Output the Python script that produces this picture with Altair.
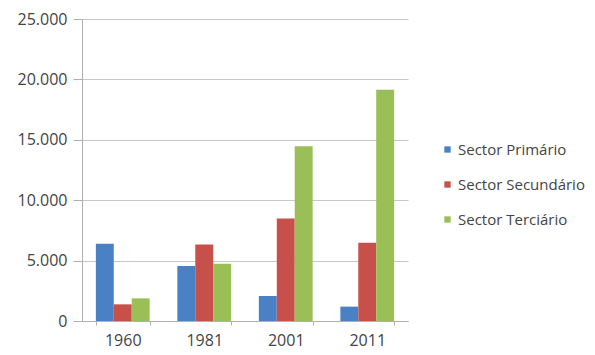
import altair as alt
import pandas as pd

years = ["1960", "1981", "2001", "2011"]
sectors = ["Sector Primário", "Sector Secundário", "Sector Terciário"]
primario = [6400, 4550, 2070, 1190]
secundario = [1380, 6340, 8490, 6480]
terciario = [1875, 4745, 14470, 19150]
colors = ["#4A80C4", "#C8504B", "#9BBF57"]

rows = []
for i, y in enumerate(years):
    for s, vals in zip(sectors, [primario, secundario, terciario]):
        rows.append({"ano": y, "sector": s, "valor": vals[i]})
df = pd.DataFrame(rows)

font = "Open Sans"
fs = 16

chart = alt.Chart(df).mark_bar().encode(
    x=alt.X("ano:N", sort=years, title=None,
            scale=alt.Scale(paddingInner=0.34, paddingOuter=0.17),
            axis=alt.Axis(labelAngle=0, labelFontSize=fs, labelColor="#444444",
                          labelFont=font, domainColor="#b0b0b0", tickColor="#b0b0b0",
                          tickBand="extent", tickSize=4, labelPadding=7, grid=False)),
    xOffset=alt.XOffset("sector:N", sort=sectors),
    y=alt.Y("valor:Q", title=None,
            scale=alt.Scale(domain=[0, 25000], nice=False),
            axis=alt.Axis(values=[0, 5000, 10000, 15000, 20000, 25000],
                          labelExpr="replace(format(datum.value, ','), ',', '.')",
                          labelFontSize=fs, labelColor="#444444", labelFont=font,
                          domainColor="#b0b0b0", tickColor="#b0b0b0", tickSize=9,
                          gridColor="#c8c8c8", labelPadding=6)),
    color=alt.Color("sector:N", sort=sectors,
                    scale=alt.Scale(domain=sectors, range=colors),
                    legend=alt.Legend(title=None, orient="none", legendX=358, legendY=123,
                                      symbolType="square", symbolSize=40, symbolStrokeWidth=0,
                                      labelFontSize=15, labelFont=font, labelColor="#444444",
                                      rowPadding=19, labelOffset=3)),
).properties(
    width=326, height=302,
    background="white",
    autosize=alt.AutoSizeParams(type="none"),
    padding={"left": 82, "top": 19, "right": 187, "bottom": 34},
).configure(
    view=alt.ViewConfig(stroke="transparent", strokeWidth=0, strokeOpacity=0),
    style={"cell": {"stroke": "transparent", "strokeWidth": 0}},
)

chart.save("out.html", embed_options={"renderer": "svg", "actions": False})
